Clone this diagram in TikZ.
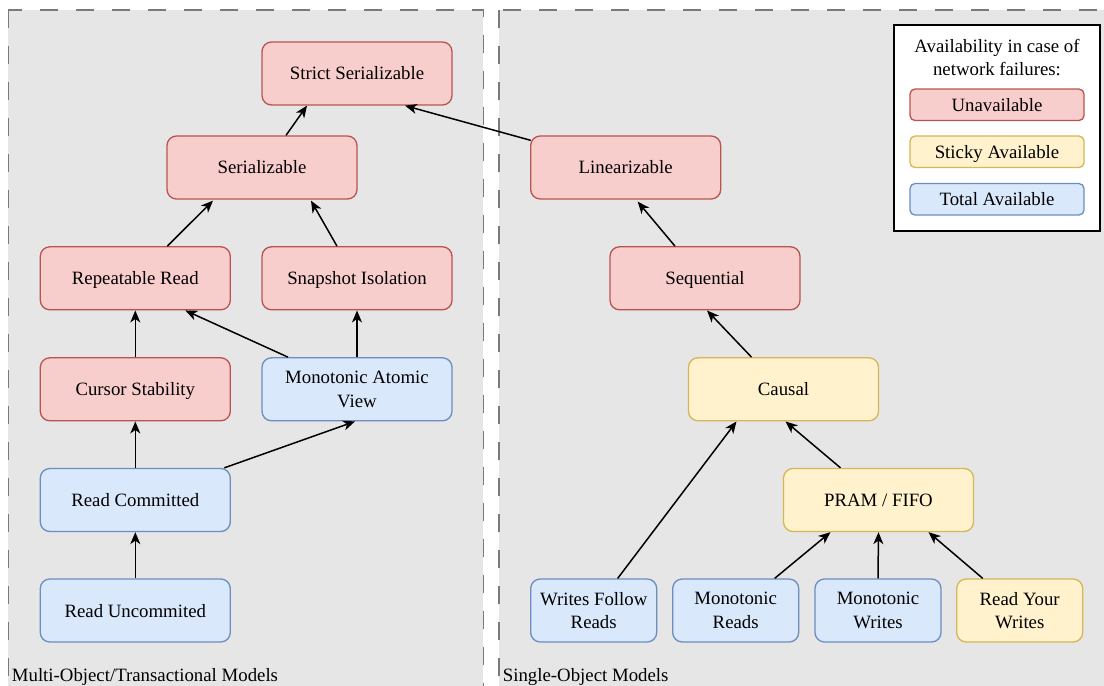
\documentclass[tikz,border=0pt]{standalone}
\usepackage{fontspec}
\setmainfont{Liberation Serif}
\usetikzlibrary{arrows.meta,calc}
\definecolor{redfill}{HTML}{F8CECC}
\definecolor{redline}{HTML}{B85450}
\definecolor{yelfill}{HTML}{FFF2CC}
\definecolor{yelline}{HTML}{D6B656}
\definecolor{bluefill}{HTML}{DAE8FC}
\definecolor{blueline}{HTML}{6C8EBF}
\definecolor{panelfill}{HTML}{E6E6E6}
\definecolor{panelline}{HTML}{7A7A7A}
\tikzset{
  txt/.style={font=\fontsize{18.8bp}{23.5bp}\selectfont, text=black},
  box/.style={txt, draw, rounded corners=9.5bp, line width=1.3bp, minimum width=190bp, minimum height=63bp, align=center, inner sep=0pt},
  smallbox/.style={box, minimum width=126bp},
  oneline/.style={text height=13bp, text depth=0bp},
  legbox/.style={txt, oneline, draw, rounded corners=5bp, line width=1.3bp, minimum width=174bp, minimum height=31.5bp, align=center, inner sep=0pt},
  red/.style={fill=redfill, draw=redline},
  yel/.style={fill=yelfill, draw=yelline},
  blu/.style={fill=bluefill, draw=blueline},
  panel/.style={fill=panelfill, draw=panelline, line width=1.6bp, dash pattern=on 18bp off 18bp},
  arr/.style={line width=1.5bp, draw=black, -{Stealth[length=12bp, width=10bp, inset=3.5bp]}}
}
\begin{document}
\begin{tikzpicture}[x=1bp, y=-1bp]
\useasboundingbox (0,0) rectangle (1104,686);
\clip (0,0) rectangle (1104,686);
\fill[white] (0,0) rectangle (1104,686);
\draw[panel] (8.3,10) rectangle (483.3,730);
\draw[panel] (499,10) rectangle (1140,730);

% left column nodes
\node[box, oneline, red] (ss)  at (357,73.5)   {Strict Serializable};
\node[box, oneline, red] (ser) at (262,167.5)  {Serializable};
\node[box, oneline, red] (rr)  at (135.3,278.3) {Repeatable Read};
\node[box, oneline, red] (si)  at (357,278.3)  {Snapshot Isolation};
\node[box, oneline, red] (cs)  at (135.3,389.3) {Cursor Stability};
\node[box, blu] (mav) at (357,389.3)  {Monotonic Atomic\\View};
\node[box, oneline, blu] (rc)  at (135.3,500)  {Read Committed};
\node[box, oneline, blu] (ru)  at (135.3,610.5) {Read Uncommited};

% right column nodes
\node[box, oneline, red] (lin) at (625.7,167.5) {Linearizable};
\node[box, oneline, red] (seq) at (705,278.3)   {Sequential};
\node[box, oneline, yel] (cau) at (783.5,389.3) {Causal};
\node[box, oneline, yel] (pram) at (878.5,500)  {PRAM / FIFO};
\node[smallbox, blu] (wfr) at (593.7,610.5) {Writes Follow\\Reads};
\node[smallbox, blu] (mr)  at (735.7,610.5) {Monotonic\\Reads};
\node[smallbox, blu] (mw)  at (878,610.5)   {Monotonic\\Writes};
\node[smallbox, yel] (ryw) at (1019.7,610.5) {Read Your\\Writes};

% legend
\node[draw=black, fill=white, line width=1.3bp, minimum width=206bp, minimum height=206bp, inner sep=0pt] (leg) at (997,128) {};
\node[txt, align=center] (legt) at (997,57.5) {Availability in case of\\network failures:};
\node[legbox, red] (lu) at (997,104.8) {Unavailable};
\node[legbox, yel] (ly) at (997,151.8) {Sticky Available};
\node[legbox, blu] (lb) at (997,199.3) {Total Available};

% panel labels
\node[txt, anchor=base west, inner sep=0pt] (lab1) at (11.7,681) {Multi-Object/Transactional Models};
\node[txt, anchor=base west, inner sep=0pt] (lab2) at (502.7,681) {Single-Object Models};

% edges
\draw[arr] ($(ser.north)+(24,0)$) -- ($(ss.south)+(-50,0)$);
\draw[arr] ($(lin.north west)+(0.7,5)$) -- ($(ss.south)+(48,0)$);
\draw[arr] ($(rr.north)+(32,0)$) -- ($(ser.south)+(-49,1)$);
\draw[arr] ($(si.north)+(-20,0)$) -- ($(ser.south)+(49,1)$);
\draw[arr] (cs.north) -- (rr.south);
\draw[arr] ($(mav.north)+(-69,0)$) -- ($(rr.south)+(50,0)$);
\draw[arr] (mav.north) -- (si.south);
\draw[arr] (rc.north) -- (cs.south);
\draw[arr] ($(rc.north)+(89,0)$) -- ($(mav.south)+(-2,0)$);
\draw[arr] (ru.north) -- (rc.south);
\draw[arr] ($(seq.north)+(-30,0)$) -- ($(lin.south)+(12,2)$);
\draw[arr] ($(cau.north)+(-32,0)$) -- ($(seq.south)+(2,0)$);
\draw[arr] ($(pram.north)+(-38,0)$) -- ($(cau.south)+(2,0)$);
\draw[arr] ($(wfr.north)+(24,0)$) -- ($(cau.south)+(-47,0)$);
\draw[arr] ($(mr.north)+(39,0)$) -- ($(pram.south)+(-48,0)$);
\draw[arr] (mw.north) -- (pram.south);
\draw[arr] ($(ryw.north)+(-37,0)$) -- ($(pram.south)+(50,0)$);
\end{tikzpicture}
\end{document}
